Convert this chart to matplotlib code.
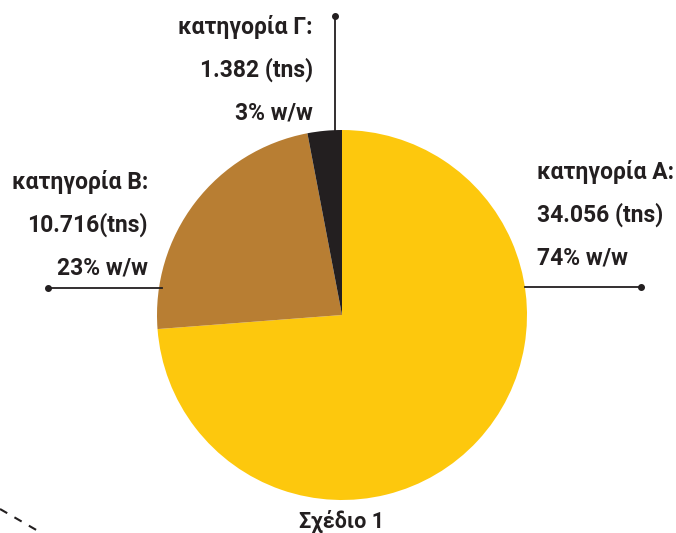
import matplotlib
matplotlib.use("Agg")
import matplotlib.pyplot as plt

# δεδομένα
categories = ["κατηγορία Α:", "κατηγορία Β:", "κατηγορία Γ:"]
tonnes = [34.056, 10.716, 1.382]
tonne_labels = ["34.056 (tns)", "10.716(tns)", "1.382 (tns)"]
percent_labels = ["74% w/w", "23% w/w", "3% w/w"]
colors = ["#FDC80D", "#B87E33", "#231F20"]
title = "Σχέδιο 1"

dark = "#231F20"
W, H = 676, 533

plt.rcParams['font.family'] = ['Roboto', 'DejaVu Sans']

fig = plt.figure(figsize=(W / 100, H / 100), dpi=100)
ax = fig.add_axes([0, 0, 1, 1])

# κύκλος: κέντρο (342, 315) σε pixels, ακτίνα 185
cx, cy, r = 342, H - 315, 185
ax.pie(tonnes, colors=colors, startangle=90, counterclock=False,
       center=(cx, cy), radius=r, frame=True,
       wedgeprops=dict(linewidth=0))
ax.set_xlim(0, W)
ax.set_ylim(0, H)
ax.set_aspect("auto")
ax.axis("off")

fs = 16.5

def label(x, y, lines, ha):
    for i, t in enumerate(lines):
        ax.text(x, H - (y + i * 43), t, ha=ha, va="center",
                fontsize=fs, fontweight="bold", color=dark)

# κατηγορία Α
ax.plot([cx + r - 2, 641], [H - 287, H - 287], color=dark, lw=1.3)
ax.plot([641], [H - 287], "o", color=dark, ms=4)
label(537, 172, [categories[0], tonne_labels[0], percent_labels[0]], "left")

# κατηγορία Β
ax.plot([48, 162], [H - 288, H - 288], color=dark, lw=1.3)
ax.plot([48], [H - 288], "o", color=dark, ms=4)
label(148, 182, [categories[1], tonne_labels[1], percent_labels[1]], "right")

# κατηγορία Γ
ax.plot([335, 335], [H - 16, H - 132], color=dark, lw=1.3)
ax.plot([335], [H - 16], "o", color=dark, ms=4)
label(313, 27, [categories[2], tonne_labels[2], percent_labels[2]], "right")

ax.text(cx, H - 521, title, ha="center", va="center",
        fontsize=15.5, fontweight="bold", color=dark)

# διακεκομμένη γραμμή κάτω αριστερά
ax.plot([0, 45], [H - 509, H - 535], color=dark, lw=1.5,
        linestyle=(0, (4, 4)))

fig.savefig("out.png", dpi=100)
